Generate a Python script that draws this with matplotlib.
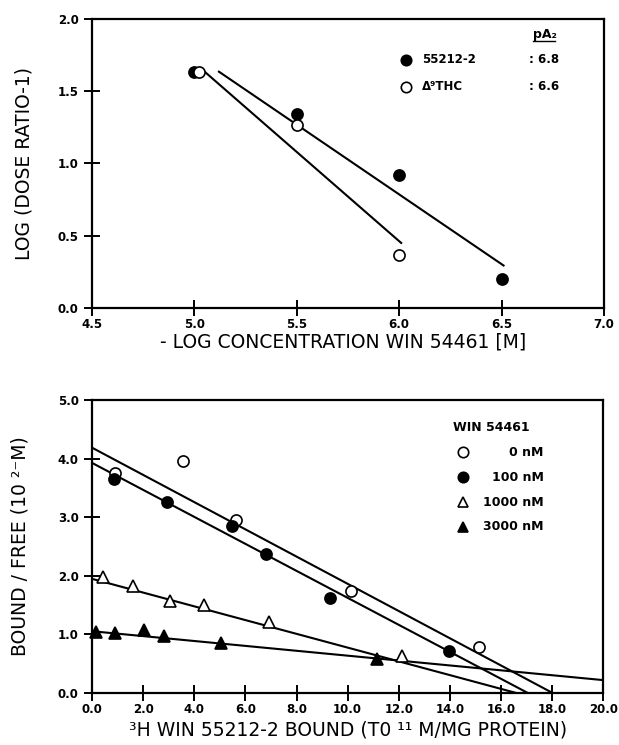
import matplotlib
matplotlib.use("Agg")
import matplotlib.pyplot as plt

# ---------------- data: top panel (Schild plot) ----------------
win_x = [5.0, 5.5, 6.0, 6.5]
win_y = [1.63, 1.345, 0.92, 0.20]
thc_x = [5.025, 5.5, 6.0]
thc_y = [1.63, 1.265, 0.365]
# fitted lines (start/end)
win_fit_x = [5.12, 6.51]
win_fit_y = [1.635, 0.294]
thc_fit_x = [5.05, 6.01]
thc_fit_y = [1.635, 0.45]
top_labels = ["55212-2", "Δ⁹THC"]
pa2_values = ["6.8", "6.6"]
top_xticks = [4.5, 5.0, 5.5, 6.0, 6.5, 7.0]
top_yticks = [0.0, 0.5, 1.0, 1.5, 2.0]

# ---------------- data: bottom panel (Scatchard plot) ----------------
c0_x = [0.9, 3.55, 5.65, 10.12, 15.12]
c0_y = [3.75, 3.97, 2.96, 1.75, 0.79]
c100_x = [0.85, 2.95, 5.49, 6.79, 9.31, 13.97]
c100_y = [3.66, 3.27, 2.86, 2.38, 1.62, 0.71]
c1000_x = [0.43, 1.59, 3.06, 4.4, 6.94, 12.13]
c1000_y = [1.98, 1.82, 1.57, 1.51, 1.21, 0.64]
c3000_x = [0.17, 0.9, 2.02, 2.82, 5.03, 11.13]
c3000_y = [1.04, 1.02, 1.07, 0.98, 0.86, 0.58]
fit0_x, fit0_y = [0.0, 18.02], [4.19, 0.0]
fit100_x, fit100_y = [0.0, 17.05], [3.93, 0.0]
fit1000_x, fit1000_y = [0.0, 16.6], [1.95, 0.0]
fit3000_x, fit3000_y = [0.0, 20.0], [1.055, 0.22]
conc_labels = ["0 nM", "100 nM", "1000 nM", "3000 nM"]
bot_xticks = [0, 2, 4, 6, 8, 10, 12, 14, 16, 18, 20]
bot_yticks = [0, 1, 2, 3, 4, 5]

LABEL_FONT = ["DejaVu Sans"]
TICK_FONT = ["DejaVu Sans"]
LABEL_SIZE = 13.5

fig = plt.figure(figsize=(6.19, 7.45), dpi=100)
ax1 = fig.add_axes([0.1486, 0.5866, 0.827, 0.388])
ax2 = fig.add_axes([0.1486, 0.0698, 0.826, 0.393])


def style(ax, xticks, yticks, fmt):
    for s in ax.spines.values():
        s.set_linewidth(1.6)
    ax.set_xticks(xticks)
    ax.set_yticks(yticks)
    ax.set_xticklabels([fmt.format(v) for v in xticks])
    ax.set_yticklabels([fmt.format(v) for v in yticks])
    ax.tick_params(direction="inout", length=11, width=1.4,
                   top=False, right=False)
    ax.tick_params(axis="x", pad=2)
    ax.tick_params(axis="y", pad=4)
    for lab in ax.get_xticklabels() + ax.get_yticklabels():
        lab.set_family(TICK_FONT)
        lab.set_fontweight("bold")
        lab.set_fontsize(8.5)


mk = dict(markersize=8, markeredgewidth=1.2, markeredgecolor="black",
          linestyle="none", clip_on=False, zorder=3)
leg_mk = dict(markersize=7.5, markeredgewidth=1.2, markeredgecolor="black",
              linestyle="none", clip_on=False, zorder=3)

# ---- top panel ----
ax1.plot(win_fit_x, win_fit_y, color="black", lw=1.5)
ax1.plot(thc_fit_x, thc_fit_y, color="black", lw=1.5)
ax1.plot(win_x, win_y, marker="o", markerfacecolor="black", **mk)
ax1.plot(thc_x, thc_y, marker="o", markerfacecolor="white", **mk)
ax1.set_xlim(4.5, 7.0)
ax1.set_ylim(0.0, 2.0)
style(ax1, top_xticks, top_yticks, "{:.1f}")
ax1.set_xlabel("- LOG CONCENTRATION WIN 54461 [M]", family=LABEL_FONT,
               fontsize=LABEL_SIZE, va="center")
ax1.set_ylabel("LOG (DOSE RATIO-1)", family=LABEL_FONT,
               fontsize=LABEL_SIZE, va="center")
ax1.xaxis.set_label_coords(0.49, -0.118)
ax1.yaxis.set_label_coords(-0.133, 0.5)

# legend block (top)
row_y = [0.858, 0.765]
fills = ["black", "white"]
ax1.text(0.861, 0.945, "pA₂", transform=ax1.transAxes, fontsize=9,
         fontweight="bold", family=TICK_FONT, ha="left", va="center")
ax1.plot([0.861, 0.905], [0.922, 0.922], transform=ax1.transAxes,
         color="black", lw=1.0)
for yy, fc, lab, pa in zip(row_y, fills, top_labels, pa2_values):
    ax1.plot([0.613], [yy], transform=ax1.transAxes, marker="o",
             markerfacecolor=fc, **leg_mk)
    ax1.text(0.644, yy, lab, transform=ax1.transAxes, fontsize=8.5,
             fontweight="bold", family=TICK_FONT, ha="left", va="center")
    ax1.text(0.853, yy, ": " + pa, transform=ax1.transAxes, fontsize=8.5,
             fontweight="bold", family=TICK_FONT, ha="left", va="center")

# ---- bottom panel ----
for fx, fy in [(fit0_x, fit0_y), (fit100_x, fit100_y),
               (fit1000_x, fit1000_y), (fit3000_x, fit3000_y)]:
    ax2.plot(fx, fy, color="black", lw=1.5)
series = [(c0_x, c0_y, "o", "white"), (c100_x, c100_y, "o", "black"),
          (c1000_x, c1000_y, "^", "white"), (c3000_x, c3000_y, "^", "black")]
for sx, sy, m, fc in series:
    ax2.plot(sx, sy, marker=m, markerfacecolor=fc, **mk)
ax2.set_xlim(0, 20)
ax2.set_ylim(0, 5)
style(ax2, bot_xticks, bot_yticks, "{:.1f}")
ax2.set_xlabel("³H WIN 55212-2 BOUND (T0 ¹¹ M/MG PROTEIN)",
               family=LABEL_FONT, fontsize=LABEL_SIZE, va="center")
ax2.set_ylabel("BOUND / FREE (10 ²⁻M)", family=LABEL_FONT,
               fontsize=LABEL_SIZE, va="center")
ax2.xaxis.set_label_coords(0.5, -0.126)
ax2.yaxis.set_label_coords(-0.14, 0.5)

ax2.text(0.707, 0.908, "WIN 54461", transform=ax2.transAxes, fontsize=9,
         fontweight="bold", family=TICK_FONT, ha="left", va="center")
leg_y = [0.823, 0.737, 0.652, 0.567]
for yy, (sx, sy, m, fc), lab in zip(leg_y, series, conc_labels):
    ax2.plot([0.726], [yy], transform=ax2.transAxes, marker=m,
             markerfacecolor=fc, **leg_mk)
    ax2.text(0.883, yy, lab, transform=ax2.transAxes, fontsize=9,
             fontweight="bold", family=TICK_FONT, ha="right", va="center")

fig.savefig("out.png", dpi=100)
